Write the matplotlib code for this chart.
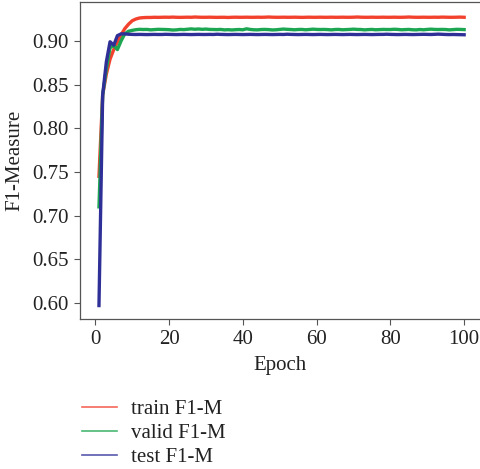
"""
F1-Measure per epoch for train / valid / test splits.
"""

import matplotlib.pyplot as plt

epochs = list(range(1, 101))

train_f1 = [
    0.7450, 0.8380, 0.8620, 0.8790, 0.8900, 0.8990, 0.9070, 0.9140, 0.9190, 0.9230,
    0.9250, 0.9262, 0.9266, 0.9268, 0.9268, 0.9270, 0.9269, 0.9270, 0.9271, 0.9270,
    0.9272, 0.9270, 0.9269, 0.9270, 0.9271, 0.9270, 0.9273, 0.9271, 0.9270, 0.9270,
    0.9271, 0.9270, 0.9269, 0.9270, 0.9270, 0.9268, 0.9270, 0.9271, 0.9270, 0.9270,
    0.9271, 0.9270, 0.9270, 0.9271, 0.9270, 0.9271, 0.9273, 0.9271, 0.9270, 0.9270,
    0.9271, 0.9270, 0.9270, 0.9271, 0.9270, 0.9269, 0.9270, 0.9271, 0.9270, 0.9270,
    0.9271, 0.9270, 0.9270, 0.9271, 0.9270, 0.9270, 0.9271, 0.9270, 0.9270, 0.9271,
    0.9273, 0.9271, 0.9270, 0.9270, 0.9271, 0.9270, 0.9270, 0.9271, 0.9270, 0.9270,
    0.9271, 0.9270, 0.9270, 0.9271, 0.9273, 0.9271, 0.9270, 0.9270, 0.9271, 0.9270,
    0.9270, 0.9271, 0.9270, 0.9272, 0.9271, 0.9270, 0.9270, 0.9271, 0.9272, 0.9270,
]

valid_f1 = [
    0.7100, 0.8380, 0.8680, 0.8920, 0.8950, 0.8900, 0.9000, 0.9080, 0.9110, 0.9120,
    0.9128, 0.9132, 0.9130, 0.9131, 0.9126, 0.9129, 0.9132, 0.9131, 0.9130, 0.9128,
    0.9124, 0.9126, 0.9131, 0.9129, 0.9133, 0.9137, 0.9133, 0.9136, 0.9132, 0.9135,
    0.9131, 0.9130, 0.9129, 0.9131, 0.9126, 0.9128, 0.9125, 0.9128, 0.9130, 0.9127,
    0.9138, 0.9131, 0.9127, 0.9126, 0.9130, 0.9131, 0.9129, 0.9125, 0.9127, 0.9131,
    0.9135, 0.9132, 0.9130, 0.9127, 0.9130, 0.9131, 0.9127, 0.9130, 0.9134, 0.9131,
    0.9130, 0.9131, 0.9129, 0.9126, 0.9130, 0.9131, 0.9127, 0.9129, 0.9131, 0.9134,
    0.9131, 0.9130, 0.9126, 0.9129, 0.9131, 0.9127, 0.9129, 0.9131, 0.9130, 0.9130,
    0.9133, 0.9131, 0.9127, 0.9129, 0.9131, 0.9127, 0.9126, 0.9130, 0.9127, 0.9131,
    0.9134, 0.9131, 0.9130, 0.9131, 0.9130, 0.9126, 0.9129, 0.9132, 0.9131, 0.9129,
]

test_f1 = [
    0.5970, 0.8380, 0.8760, 0.8990, 0.8950, 0.9060, 0.9080, 0.9080, 0.9076, 0.9074,
    0.9073, 0.9074, 0.9073, 0.9072, 0.9073, 0.9074, 0.9073, 0.9073, 0.9075, 0.9074,
    0.9073, 0.9072, 0.9073, 0.9074, 0.9073, 0.9072, 0.9073, 0.9074, 0.9073, 0.9073,
    0.9074, 0.9073, 0.9076, 0.9074, 0.9073, 0.9072, 0.9073, 0.9074, 0.9073, 0.9072,
    0.9073, 0.9074, 0.9073, 0.9072, 0.9073, 0.9074, 0.9073, 0.9072, 0.9073, 0.9074,
    0.9073, 0.9076, 0.9074, 0.9073, 0.9072, 0.9073, 0.9074, 0.9073, 0.9072, 0.9073,
    0.9074, 0.9073, 0.9072, 0.9073, 0.9074, 0.9073, 0.9072, 0.9073, 0.9074, 0.9073,
    0.9072, 0.9073, 0.9074, 0.9073, 0.9072, 0.9073, 0.9074, 0.9074, 0.9076, 0.9074,
    0.9073, 0.9072, 0.9073, 0.9074, 0.9073, 0.9072, 0.9073, 0.9074, 0.9075, 0.9074,
    0.9073, 0.9075, 0.9077, 0.9075, 0.9073, 0.9072, 0.9073, 0.9072, 0.9071, 0.9070,
]

series = [
    ("train F1-M", train_f1, "#f2412d"),
    ("valid F1-M", valid_f1, "#1ca651"),
    ("test F1-M", test_f1, "#2f2f98"),
]


def main():
    plt.rcParams.update({"font.size": 15,
        "font.family": ["Liberation Serif", "DejaVu Serif"]}
        )

    fig = plt.figure(figsize=(4.8, 4.69), dpi=100)
    ax = fig.add_axes([0.167, 0.32, 0.833, 0.675])

    for name, vals, col in series:
        ax.plot(epochs, vals, color=col, lw=2.4, label=name)

    ax.set_xlim(-4.1, 104.3)
    ax.set_ylim(0.5817, 0.9441)
    ax.set_xticks([0, 20, 40, 60, 80, 100])
    ax.set_yticks([0.60, 0.65, 0.70, 0.75, 0.80, 0.85, 0.90])
    ax.set_yticklabels([f"{v:.2f}" for v in ax.get_yticks()])
    ax.tick_params(direction="out", length=4, width=0.8, colors="#555555",
                   labelcolor="#222222", labelsize=15, pad=4)

    ax.spines["right"].set_visible(False)
    for s in ("left", "top", "bottom"):
        ax.spines[s].set_color("#555555")
        ax.spines[s].set_linewidth(0.9)

    ax.set_xlabel("Epoch", fontsize=15, color="#222222", labelpad=5)
    ax.set_ylabel("F1-Measure", fontsize=15, color="#222222", labelpad=6)

    ## legend under the axes, no frame, thin handles
    handles, labels = ax.get_legend_handles_labels()
    leg = fig.legend(handles, labels, loc="upper left",
                     bbox_to_anchor=(0.153, 0.166), frameon=False,
                     fontsize=15, handlelength=1.7, handletextpad=0.65,
                     labelspacing=0.22, borderaxespad=0)
    for ln in leg.get_lines():
        ln.set_linewidth(1.2)
        ln.set_alpha(0.8)
    for t in leg.get_texts():
        t.set_color("#222222")

    fig.savefig("out.png", dpi=100)


if __name__ == "__main__":
    main()
